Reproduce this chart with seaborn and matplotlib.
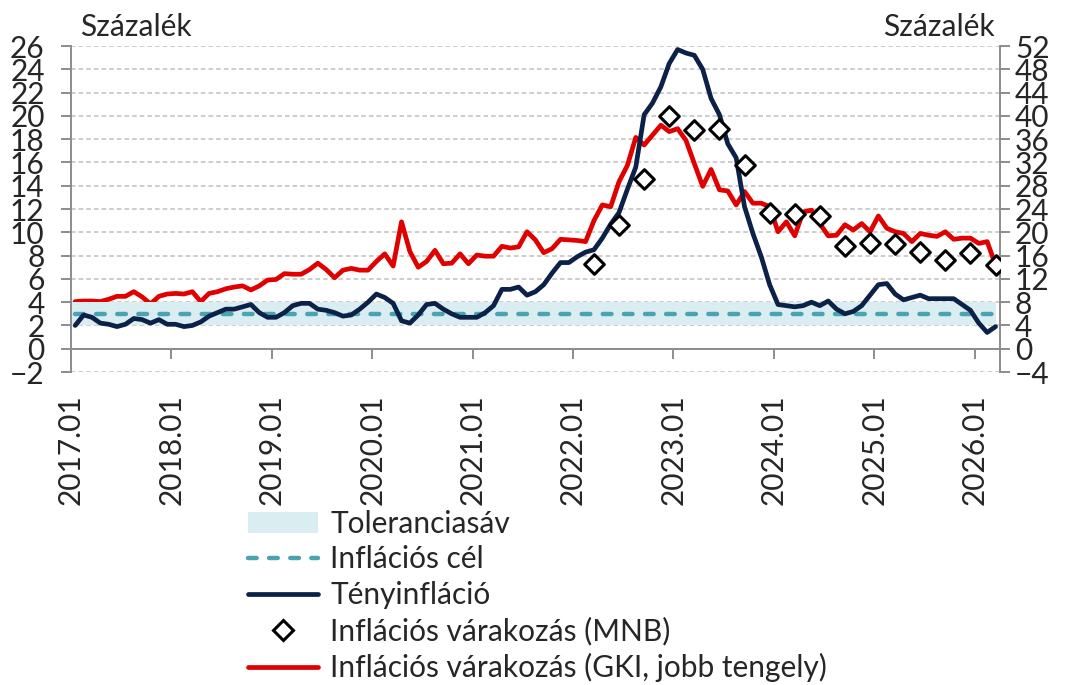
import numpy as np
import pandas as pd
import matplotlib
matplotlib.use("Agg")
import matplotlib.pyplot as plt
import seaborn as sns
from matplotlib.lines import Line2D
from matplotlib.patches import Patch

# havi adatok 2017.01-tól 2026.03-ig
tick_labels = [f"{y}.01" for y in range(2017, 2027)]

teny = [2.0, 2.9, 2.7, 2.2, 2.1, 1.9, 2.1, 2.6, 2.5, 2.2, 2.5, 2.1,
        2.1, 1.9, 2.0, 2.3, 2.8, 3.1, 3.4, 3.4, 3.6, 3.8, 3.1, 2.7,
        2.7, 3.1, 3.7, 3.9, 3.9, 3.4, 3.3, 3.1, 2.8, 2.9, 3.4, 4.0,
        4.7, 4.4, 3.9, 2.4, 2.2, 2.9, 3.8, 3.9, 3.4, 3.0, 2.7, 2.7,
        2.7, 3.1, 3.7, 5.1, 5.1, 5.3, 4.6, 4.9, 5.5, 6.5, 7.4, 7.4,
        7.9, 8.3, 8.5, 9.5, 10.7, 11.7, 13.7, 15.6, 20.1, 21.1, 22.5, 24.5,
        25.7, 25.4, 25.2, 24.0, 21.5, 20.1, 17.6, 16.4, 12.2, 9.9, 7.9, 5.5,
        3.8, 3.7, 3.6, 3.7, 4.0, 3.7, 4.1, 3.4, 3.0, 3.2, 3.7, 4.6,
        5.5, 5.6, 4.7, 4.2, 4.4, 4.6, 4.3, 4.3, 4.3, 4.3, 3.8, 3.3,
        2.2, 1.4, 1.9]

gki = [8.1, 8.2, 8.2, 8.1, 8.5, 9.0, 9.0, 9.8, 8.9, 7.7, 9.0, 9.4,
       9.5, 9.4, 9.8, 8.1, 9.5, 9.8, 10.3, 10.6, 10.8, 10.1, 10.8, 11.8,
       11.9, 12.9, 12.8, 12.8, 13.6, 14.7, 13.6, 12.2, 13.5, 13.8, 13.5, 13.5,
       15.0, 16.3, 14.2, 21.8, 16.7, 14.0, 15.0, 16.9, 14.6, 14.7, 16.3, 14.6,
       16.1, 15.9, 15.9, 17.6, 17.3, 17.5, 20.1, 18.7, 16.5, 17.2, 18.8, 18.7,
       18.6, 18.4, 22.0, 24.7, 24.4, 28.7, 31.5, 36.3, 35.0, 36.7, 38.4, 37.3,
       37.8, 35.8, 31.8, 27.9, 30.8, 27.3, 27.1, 24.7, 27.0, 25.0, 25.0, 24.4,
       20.1, 21.8, 19.4, 23.5, 23.8, 21.5, 19.4, 19.5, 21.3, 20.4, 21.5, 20.1,
       22.8, 20.7, 20.1, 19.8, 18.4, 19.8, 19.5, 19.3, 20.1, 18.8, 19.0, 19.0,
       18.1, 18.4, 14.4]

# MNB várakozás negyedévente, 2022.03-tól
mnb_honap = list(range(62, 111, 3))
mnb = [7.3, 10.6, 14.6, 20.0, 18.8, 18.9, 15.8, 11.7, 11.6, 11.4,
       8.8, 9.1, 9.0, 8.3, 7.6, 8.2, 7.2]

cel = 3.0
sav_also, sav_felso = 2.0, 4.0

df = pd.DataFrame({"x": np.arange(len(teny)) + 0.5, "teny": teny, "gki": gki})
df["cel"] = cel
mnb_df = pd.DataFrame({"x": np.array(mnb_honap) + 0.5, "mnb": mnb})

navy = "#0c2147"
red = "#e00000"
teal = "#4aa3b1"
band = "#daedf1"
grey = "#8c8c8c"
fs = 21.5

sns.set_theme(style="white")
plt.rcParams["font.family"] = ["Lato", "DejaVu Sans"]

fig = plt.figure(figsize=(10.65, 6.85), dpi=100)
ax = fig.add_axes([0.0667, 0.4569, 0.872, 0.4759])
ax2 = ax.twinx()

# jobb tengely (GKI) hátul, rácsvonalakkal
ax.set_zorder(ax2.get_zorder() + 1)
ax.patch.set_visible(False)

sns.lineplot(data=df, x="x", y="gki", ax=ax2, color=red, lw=3.4)
ax2.set_ylim(-4, 52)
ax2.set_yticks(range(-4, 53, 4))
ax2.grid(axis="y", color="#c0c0c0", ls=(0, (3, 2)), lw=1.1)
ax2.set_xlabel("")
ax2.set_ylabel("")

x_sav = np.r_[0, df["x"]]
ax.fill_between(x_sav, sav_also, sav_felso, color=band, lw=0, zorder=1)
sns.lineplot(data=df, x="x", y="cel", ax=ax, color=teal, lw=3.2, zorder=2)
ax.lines[-1].set_linestyle((0, (1.95, 2.8)))
ax.lines[-1].set_dash_capstyle("round")
sns.lineplot(data=df, x="x", y="teny", ax=ax, color=navy, lw=3.4, zorder=3)
sns.scatterplot(data=mnb_df, x="x", y="mnb", ax=ax, marker="D", s=100,
                facecolor="white", edgecolor="black", linewidth=2.2, zorder=5)

ax.set_xlim(0, 111)
ax.set_ylim(-2, 26)
ax.set_yticks(range(-2, 27, 2))
ax.set_xlabel("")
ax.set_ylabel("")

for s in ["top", "right"]:
    ax.spines[s].set_visible(False)
for s in ["top", "left", "bottom"]:
    ax2.spines[s].set_visible(False)
ax.spines["bottom"].set_position(("data", 0))
for sp in [ax.spines["left"], ax.spines["bottom"], ax2.spines["right"]]:
    sp.set_color(grey)
    sp.set_linewidth(1.4)

ax.set_xticks(range(0, 109, 12))
ax.set_xticklabels(tick_labels)

ax.tick_params(axis="y", direction="out", length=7, width=1.4, color=grey,
               labelsize=fs, pad=12, left=True)
ax.tick_params(axis="x", direction="out", length=7, width=1.4, color=grey,
               labelsize=fs, pad=26, bottom=True, labelrotation=90)
ax2.tick_params(axis="y", direction="out", length=7, width=1.4, color=grey,
                labelsize=fs, pad=4, right=True)

fig.text(0.075, 0.961, "Százalék", fontsize=fs, ha="left", va="center")
fig.text(0.934, 0.961, "Százalék", fontsize=fs, ha="right", va="center")

handles = [
    Patch(facecolor=band, edgecolor="none"),
    Line2D([], [], color=teal, lw=3.2, ls=(0, (1.95, 2.8)), dash_capstyle="round"),
    Line2D([], [], color=navy, lw=3.4),
    Line2D([], [], ls="none", marker="D", markersize=10, markerfacecolor="white",
           markeredgecolor="black", markeredgewidth=2.2),
    Line2D([], [], color=red, lw=3.4),
]
labels = ["Toleranciasáv", "Inflációs cél", "Tényinfláció",
          "Inflációs várakozás (MNB)", "Inflációs várakozás (GKI, jobb tengely)"]
fig.legend(handles, labels, loc="upper left", bbox_to_anchor=(0.233, 0.256),
           frameon=False, fontsize=fs, handlelength=2.35, handletextpad=0.4,
           labelspacing=0.26, borderpad=0, borderaxespad=0)

fig.savefig("out.png", dpi=100)
